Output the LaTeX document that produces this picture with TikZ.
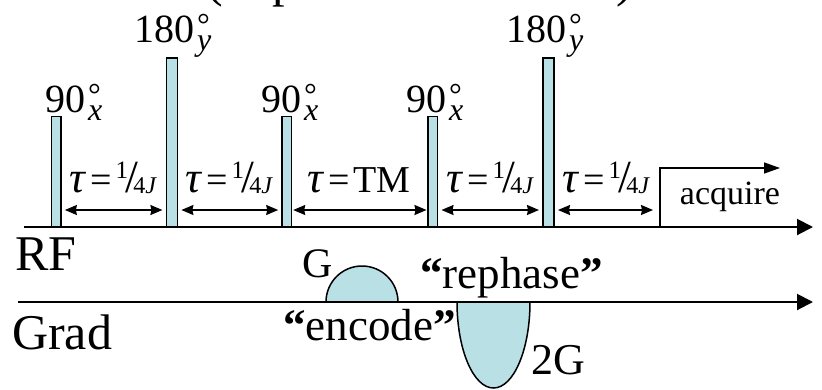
\documentclass[tikz,border=0pt]{standalone}
\usepackage{fontspec}
\setmainfont{Liberation Serif}
\usetikzlibrary{arrows.meta}
\definecolor{pulsefill}{RGB}{185,224,228}
\newcommand{\fsz}[1]{\fontsize{#1}{#1}\selectfont}
\newcommand{\pulselab}[2]{\fsz{40}#1\kern3pt\rlap{\raisebox{7pt}{\fsz{32}°}}\raisebox{-8pt}{\fsz{32}\textit{#2}}}
\newcommand{\qj}{\raisebox{14pt}{\fsz{25}1}\kern-2.5pt{\fsz{46}/}\kern-5pt\raisebox{-1pt}{\fsz{24}4\textit{J}}}
\newcommand{\taueq}{{\fsz{44}\textit{τ}}\kern4pt=\kern4pt}
\newcommand{\quoted}[1]{{\bfseries “}#1{\bfseries ”}}
\tikzset{
  pulse/.style={draw, line width=1.5pt, fill=pulsefill, inner sep=0pt, outer sep=0pt, anchor=south west},
  baseaxis/.style={line width=2pt, -{Triangle[length=16pt,width=16pt]}},
  tauspan/.style={line width=1.5pt, {Stealth[length=12pt,width=10pt,inset=1pt]}-{Stealth[length=12pt,width=10pt,inset=1pt]}, shorten <=4pt, shorten >=4pt},
  acqline/.style={line width=1.5pt, -{Triangle[length=16pt,width=11pt]}},
  lobe/.style={draw, line width=1.5pt, fill=pulsefill},
  lab/.style={anchor=base west, inner sep=0pt},
  tlab/.style={anchor=base, inner sep=0pt, font=\fsz{38}},
}

\begin{document}
\begin{tikzpicture}[x=1pt,y=-1pt]
\useasboundingbox (0,0) rectangle (822,389);
% line above, cut off by the page
\node[lab, font=\fsz{50}] (top1) at (206,-4) {(};
\node[lab, font=\fsz{50}] (top2) at (272,-4) {p};
\node[lab, font=\fsz{50}] (top3) at (616,-4) {)};
% gradient lobes
\draw[lobe] (326,302) arc[start angle=180, end angle=360, radius=36] -- cycle;
\draw[lobe] (457,302) arc[start angle=180, end angle=0, x radius=36.5, y radius=86] -- cycle;
% pulses
\node[pulse, minimum width=9.5pt, minimum height=110.3pt] (p1) at (51.4,227) {};
\node[pulse, minimum width=11pt, minimum height=169pt] (p2) at (166.4,227) {};
\node[pulse, minimum width=9.5pt, minimum height=110.3pt] (p3) at (282.2,227) {};
\node[pulse, minimum width=9.5pt, minimum height=110.3pt] (p4) at (428,227) {};
\node[pulse, minimum width=11pt, minimum height=169pt] (p5) at (543,227) {};
\node[lab] (l1) at (45,112) {\pulselab{90}{x}};
\node[lab] (l2) at (134,42) {\pulselab{180}{y}};
\node[lab] (l3) at (261,112) {\pulselab{90}{x}};
\node[lab] (l4) at (406,112) {\pulselab{90}{x}};
\node[lab] (l5) at (506,42) {\pulselab{180}{y}};
% axes
\coordinate (rf0) at (24,227);
\coordinate (rf1) at (813,227);
\coordinate (gr0) at (18,302);
\coordinate (gr1) at (813,302);
\draw[baseaxis] (rf0) -- (rf1);
\draw[baseaxis] (gr0) -- (gr1);
% delays
\coordinate (lvl) at (0,210);
\coordinate (acq) at (660,227);
\coordinate (acqend) at (780,168);
\draw[tauspan] (p1.east |- lvl) -- (p2.west |- lvl);
\draw[tauspan] (p2.east |- lvl) -- (p3.west |- lvl);
\draw[tauspan, shorten <=1.5pt, shorten >=1.5pt] (p3.east |- lvl) -- (p4.west |- lvl);
\draw[tauspan] (p4.east |- lvl) -- (p5.west |- lvl);
\draw[tauspan, shorten >=7pt] (p5.east |- lvl) -- (acq |- lvl);
\node[tlab] (t1) at (113,192) {\taueq\qj};
\node[tlab] (t2) at (229,192) {\taueq\qj};
\node[tlab] (t3) at (359,192) {\taueq TM};
\node[tlab] (t4) at (490,192) {\taueq\qj};
\node[tlab] (t5) at (606,192) {\taueq\qj};
\draw[acqline] (acq) |- (acqend);
\node[anchor=base, inner sep=0pt, font=\fsz{34}] (acqlab) at (730,204) {acquire};
% channel and lobe labels
\node[lab, font=\fsz{50}] (rf) at (15,270) {RF};
\node[lab, font=\fsz{50}] (grad) at (12,349) {Grad};
\node[lab, font=\fsz{42}] (g1) at (302,277) {G};
\node[lab, font=\fsz{44}] (g2) at (531,374) {2G};
\node[lab, font=\fsz{45}] (enc) at (283,340) {\quoted{encode}};
\node[lab, font=\fsz{45}] (reph) at (420,288) {\quoted{rephase}};
\end{tikzpicture}
\end{document}
